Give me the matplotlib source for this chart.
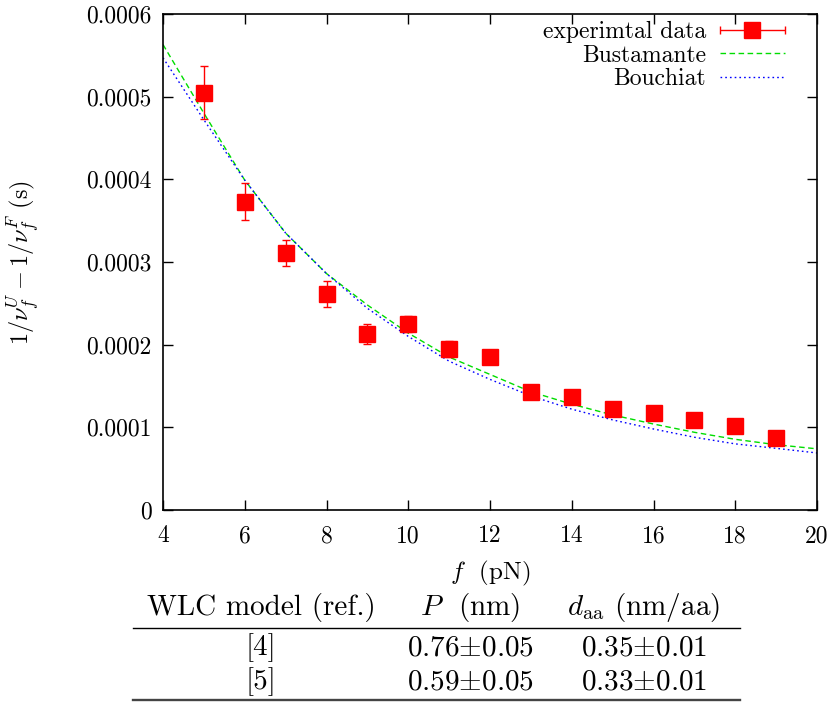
import numpy as np
import matplotlib
matplotlib.use("Agg")
import matplotlib.pyplot as plt
from matplotlib.lines import Line2D
from matplotlib.legend_handler import HandlerErrorbar

plt.rcParams['font.family'] = 'serif'
plt.rcParams['font.serif'] = ['cmr10']
plt.rcParams['mathtext.fontset'] = 'cm'
plt.rcParams['axes.formatter.use_mathtext'] = True

# Measured data
force = [5, 6, 7, 8, 9, 10, 11, 12, 13, 14, 15, 16, 17, 18, 19]
delta_inv = [5.05e-4, 3.73e-4, 3.11e-4, 2.61e-4, 2.13e-4, 2.25e-4, 1.95e-4, 1.85e-4,
             1.43e-4, 1.37e-4, 1.22e-4, 1.17e-4, 1.09e-4, 1.02e-4, 0.87e-4]
delta_err = [0.32e-4, 0.22e-4, 0.16e-4, 0.16e-4, 0.12e-4, 0.10e-4, 0.10e-4, 0.03e-4,
             0.03e-4, 0.03e-4, 0.03e-4, 0.03e-4, 0.03e-4, 0.03e-4, 0.03e-4]

# WLC model curves
curve_f = [4, 5, 6, 7, 8, 9, 10, 11, 12, 13, 14, 15, 16, 17, 18, 19, 20]
bustamante = [5.63e-4, 4.80e-4, 3.99e-4, 3.35e-4, 2.86e-4, 2.48e-4, 2.14e-4, 1.85e-4,
              1.64e-4, 1.43e-4, 1.28e-4, 1.15e-4, 1.04e-4, 0.94e-4, 0.855e-4, 0.79e-4, 0.74e-4]
bouchiat = [5.47e-4, 4.72e-4, 3.99e-4, 3.35e-4, 2.86e-4, 2.44e-4, 2.10e-4, 1.80e-4,
            1.58e-4, 1.38e-4, 1.22e-4, 1.09e-4, 0.98e-4, 0.88e-4, 0.80e-4, 0.746e-4, 0.69e-4]

x_ticks = [4, 6, 8, 10, 12, 14, 16, 18, 20]
y_ticks = [0, 1e-4, 2e-4, 3e-4, 4e-4, 5e-4, 6e-4]
y_tick_labels = ['0', '0.0001', '0.0002', '0.0003', '0.0004', '0.0005', '0.0006']

# Fit parameter table
table_header = ['WLC model (ref.)', r'$P$  (nm)', r'$d_{\rm aa}$ (nm/aa)']
table_rows = [['[4]', r'0.76$\pm$0.05', r'0.35$\pm$0.01'],
              ['[5]', r'0.59$\pm$0.05', r'0.33$\pm$0.01']]

W, H = 831, 702
fig = plt.figure(figsize=(W / 100, H / 100), dpi=100)
ax = fig.add_axes([163 / W, 1 - 510 / H, (817 - 163) / W, (510 - 14) / H])

fs = 17
green = '#00dd00'
ax.errorbar(force, delta_inv, yerr=delta_err, fmt='s', color='#ff0000',
            ms=11.5, elinewidth=1.0, capsize=2.9, capthick=1.0, zorder=3)
ax.plot(curve_f, bustamante, color=green, lw=1.0, ls=(0, (4, 2.5)), zorder=2)
ax.plot(curve_f, bouchiat, color='#0000ff', lw=1.0, ls=(0, (1.2, 2.2)), zorder=2)

# legend handles
h_err = ax.errorbar([np.nan], [np.nan], xerr=[np.nan], fmt='s', color='#ff0000',
                    ms=11.5, elinewidth=1.0, capsize=2.9, capthick=1.0)
h_bus = Line2D([], [], color=green, lw=1.0, ls=(0, (4, 2.5)))
h_bou = Line2D([], [], color='#0000ff', lw=1.0, ls=(0, (1.2, 2.2)))
ax.legend([h_err, h_bus, h_bou], ['experimtal data', 'Bustamante', 'Bouchiat'],
          loc='upper right', bbox_to_anchor=(0.951, 0.986), frameon=False,
          markerfirst=False, handlelength=2.75, handletextpad=0.6,
          labelspacing=0.06, borderaxespad=0.0, borderpad=0.0, fontsize=fs,
          handler_map={h_err: HandlerErrorbar(xerr_size=1.375)})

ax.set_xlim(4, 20)
ax.set_ylim(0, 6e-4)
ax.set_xticks(x_ticks)
ax.set_xticklabels([str(t) for t in x_ticks])
ax.set_yticks(y_ticks)
ax.set_yticklabels(y_tick_labels)
ax.tick_params(direction='in', length=7, width=1.0, top=True, right=True,
               labelsize=fs, pad=8)
ax.tick_params(axis='x', pad=11)
for s in ax.spines.values():
    s.set_linewidth(1.2)

ax.set_xlabel(r'$f$  (pN)', fontsize=18, labelpad=8)
ax.set_ylabel(r'$1/\nu_f^U - 1/\nu_f^F$ (s)', fontsize=17.5, labelpad=33)

# table below the plot
tfs = 21
col_x = [261, 470, 644]
header_y = 608
row_y = [648, 682]
for cx, txt in zip(col_x, table_header):
    fig.text(cx / W, 1 - header_y / H, txt, ha='center', va='center', fontsize=tfs)
for ry, row in zip(row_y, table_rows):
    for cx, txt in zip(col_x, row):
        fig.text(cx / W, 1 - ry / H, txt, ha='center', va='center', fontsize=tfs)
fig.add_artist(Line2D([133 / W, 740 / W], [1 - 627.5 / H, 1 - 627.5 / H],
                      color='black', lw=1.0, transform=fig.transFigure))
fig.add_artist(Line2D([133 / W, 740 / W], [1 - 699.5 / H, 1 - 699.5 / H],
                      color='#444444', lw=1.7, transform=fig.transFigure))

fig.savefig('out.png', dpi=100)
